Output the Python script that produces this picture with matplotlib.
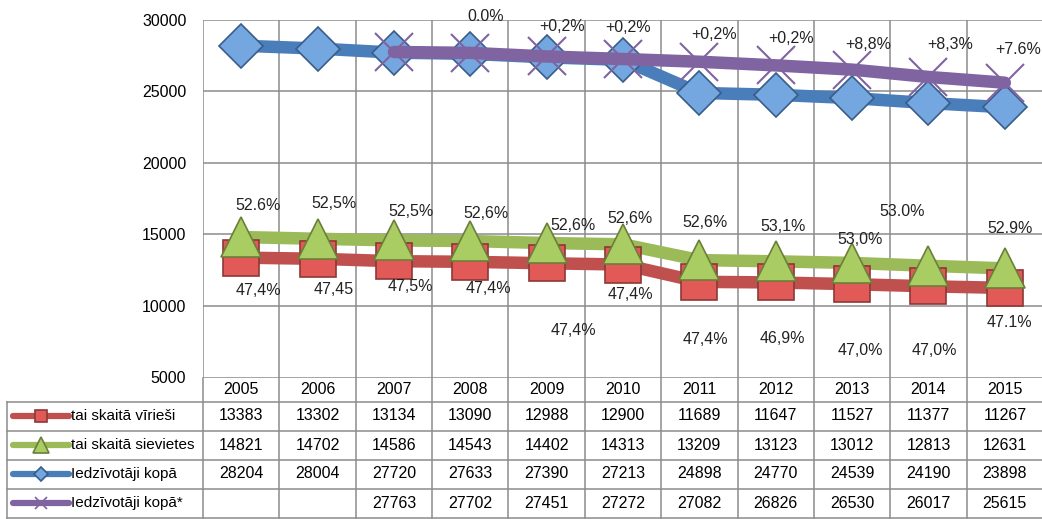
import matplotlib
matplotlib.use("Agg")
import matplotlib.pyplot as plt
import numpy as np

# data
years = [2005, 2006, 2007, 2008, 2009, 2010, 2011, 2012, 2013, 2014, 2015]
male = [13383, 13302, 13134, 13090, 12988, 12900, 11689, 11647, 11527, 11377, 11267]
female = [14821, 14702, 14586, 14543, 14402, 14313, 13209, 13123, 13012, 12813, 12631]
total = [28204, 28004, 27720, 27633, 27390, 27213, 24898, 24770, 24539, 24190, 23898]
total_new = [None, None, 27763, 27702, 27451, 27272, 27082, 26826, 26530, 26017, 25615]

female_pct = ["52.6%", "52,5%", "52,5%", "52,6%", "52,6%", "52,6%", "52,6%", "53,1%", "53,0%", "53.0%", "52.9%"]
male_pct = ["47,4%", "47,45", "47,5%", "47,4%", "47,4%", "47,4%", "47,4%", "46,9%", "47,0%", "47,0%", "47.1%"]
total_new_pct = [None, None, None, "0.0%", "+0,2%", "+0,2%", "+0,2%", "+0,2%", "+8,8%", "+8,3%", "+7.6%"]

labels = ["tai skaitā vīrieši", "tai skaitā sievietes", "Iedzīvotāji kopā", "Iedzīvotāji kopā*"]

# label offsets in pixels (dx, dy down)
female_off = [(17, -32), (16, -35), (17, -29), (16, -28), (26, -18), (7, -26), (6, -38), (7, -35), (8, -23), (-26, -54), (5, -40)]
male_off = [(17, 33), (16, 31), (16, 25), (18, 27), (27, 67), (7, 30), (6, 58), (7, 56), (8, 66), (6, 64), (5, 35)]
total_new_off = [None, None, None, (15, -36), (15, -30), (5, -32), (15, -27), (15, -27), (16, -25), (22, -32), (13, -33)]

plt.rcParams['font.family'] = ['Liberation Sans', 'DejaVu Sans']
FS = 11.5
GRID = '#8c8c8c'

W, H = 1042, 519
fig = plt.figure(figsize=(W / 100, H / 100), dpi=100)

left, right, top, bottom = 203, 1043, 20, 377.5
ax = fig.add_axes([left / W, 1 - bottom / H, (right - left) / W, (bottom - top) / H])
x = np.arange(len(years))
ax.set_xlim(-0.5, len(years) - 0.5)
ax.set_ylim(5000, 30000)
ax.set_yticks(range(5000, 30001, 5000))
ax.set_yticklabels([str(v) for v in range(5000, 30001, 5000)], fontsize=FS)
ax.set_xticks(np.arange(-0.5, len(years)), minor=False)
ax.set_xticklabels([])
ax.tick_params(length=0, pad=12)
ax.grid(True, color=GRID, lw=1.1)
for s in ax.spines.values():
    s.set_visible(False)
ax.set_axisbelow(True)

series = [
    (male, '#c0504d', 's', '#e25a57', '#8c3836', 26),
    (female, '#9bbb59', '^', '#a9cc63', '#6b7f3a', 29),
    (total, '#4a7ebb', 'D', '#74a6df', '#385d8a', 22),
]
for vals, col, mk, fc, ec, ms in series:
    ax.plot(x, vals, color=col, lw=9, solid_capstyle='round', zorder=3)
    ax.plot(x, vals, ls='none', marker=mk, ms=ms, mfc=fc, mec=ec, mew=1.2, zorder=4)

tn = np.array([np.nan if v is None else v for v in total_new], dtype=float)
ax.plot(x, tn, color='#8064a2', lw=9, solid_capstyle='round', zorder=5)
ax.plot(x, tn, ls='none', marker='x', ms=28, mec='#8064a2', mew=1.5, zorder=6)

def put_labels(vals, texts, offs):
    for i, (v, t, o) in enumerate(zip(vals, texts, offs)):
        if v is None or t is None:
            continue
        ax.annotate(t, (x[i], v), xytext=(o[0] * 0.72, -o[1] * 0.72),
                    textcoords='offset points', ha='center', va='center',
                    fontsize=FS, color='#222222', zorder=8)

put_labels(female, female_pct, female_off)
put_labels(male, male_pct, male_off)
put_labels(total_new, total_new_pct, total_new_off)

# data table under the plot
col_px = (right - left) / len(years)
x0 = -0.5 - (left - 7) / col_px
tax = fig.add_axes([7 / W, 0, (right - 7) / W, (H - bottom) / H])
tax.set_xlim(x0, len(years) - 0.5)
tax.set_ylim(H, bottom)
tax.axis('off')

rows = [bottom, 401.5, 430.5, 459.5, 488.5, 517.5]
for k in range(len(years) + 1):
    tax.plot([k - 0.5, k - 0.5], [bottom, rows[-1]], color=GRID, lw=1.1, clip_on=False)
for r in rows[1:]:
    tax.plot([x0, len(years) - 0.5], [r, r], color=GRID, lw=1.1, clip_on=False)
tax.plot([x0, x0], [rows[1], rows[-1]], color=GRID, lw=1.1, clip_on=False)

hy = (rows[0] + rows[1]) / 2
for i, yr in enumerate(years):
    tax.text(i, hy, str(yr), ha='center', va='center', fontsize=FS)

table_rows = [male, female, total, total_new]
styles = [('#c0504d', 's', '#e25a57', '#8c3836', 9),
          ('#9bbb59', '^', '#a9cc63', '#6b7f3a', 11),
          ('#4a7ebb', 'D', '#74a6df', '#385d8a', 7),
          ('#8064a2', 'x', '#8064a2', '#8064a2', 9)]
for j, (vals, lab, st) in enumerate(zip(table_rows, labels, styles)):
    cy = (rows[j + 1] + rows[j + 2]) / 2
    col, mk, fc, ec, ms = st
    tax.plot([x0 + 6 / col_px, x0 + 62 / col_px], [cy, cy], color=col, lw=4.5,
             solid_capstyle='round', clip_on=False)
    tax.plot([x0 + 34 / col_px], [cy], marker=mk, ms=ms, mfc=fc, mec=ec, mew=1.2,
             ls='none', clip_on=False)
    tax.text(x0 + 64 / col_px, cy, lab, ha='left', va='center', fontsize=11)
    for i, v in enumerate(vals):
        if v is not None:
            tax.text(i, cy, str(v), ha='center', va='center', fontsize=FS)

fig.savefig("out.png", dpi=100)
